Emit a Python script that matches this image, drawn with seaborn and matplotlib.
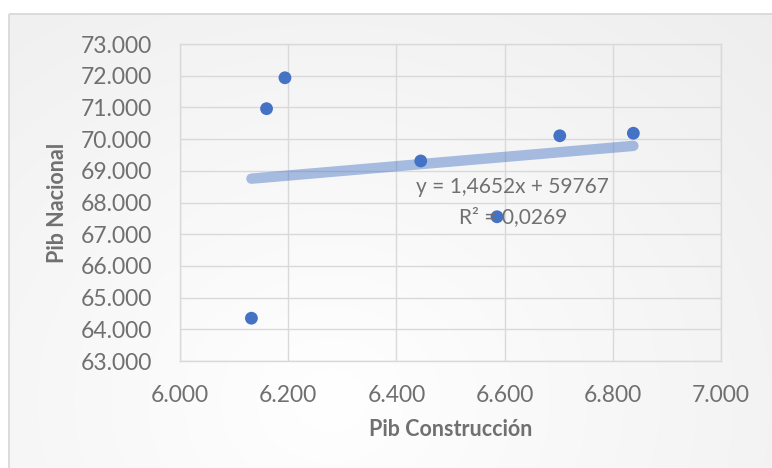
import numpy as np
import pandas as pd
import matplotlib
matplotlib.use("Agg")
import matplotlib.pyplot as plt
from matplotlib.ticker import FuncFormatter
from matplotlib.patches import Rectangle
import seaborn as sns

# Construction GDP vs national GDP
pib_construccion = [6132, 6160, 6194, 6445, 6586, 6702, 6838]
pib_nacional = [64350, 70960, 71935, 69310, 67550, 70105, 70185]

# Linear trendline as reported in the chart
pendiente = 1.4652
intercepto = 59767
r2 = 0.0269

x_ticks = [6000, 6200, 6400, 6600, 6800, 7000]
y_ticks = [63000, 64000, 65000, 66000, 67000, 68000, 69000, 70000, 71000, 72000, 73000]

df = pd.DataFrame({"Pib Construcción": pib_construccion, "Pib Nacional": pib_nacional})

sns.set_theme(style="white")
plt.rcParams["font.family"] = ["Lato", "DejaVu Sans"]

W, H = 772, 468
fig = plt.figure(figsize=(W / 100, H / 100), dpi=100)
fig.patch.set_facecolor("white")

# Chart area: soft radial gradient inside a thin gray frame
bg = fig.add_axes([0, 0, 1, 1], zorder=-5)
yy, xx = np.mgrid[0:H, 0:W]
d = np.sqrt(((xx - 330) / 700.0) ** 2 + ((yy - 400) / 600.0) ** 2)
d = np.clip(d, 0, 1)
shade = 1.0 - 0.075 * d
img = np.dstack([shade, shade, shade])
frame_x, frame_y = 9, 14
img[:frame_y, :, :] = 1.0
img[:, :frame_x, :] = 1.0
bg.imshow(img, extent=[0, W, H, 0], aspect="auto", interpolation="bilinear")
bg.add_patch(Rectangle((frame_x, frame_y), W + 10, H + 10, fill=False,
                       edgecolor="#d9d9d9", linewidth=1.3))
bg.set_xlim(0, W)
bg.set_ylim(H, 0)
bg.axis("off")

left, right, top, bottom = 180, 721, 44, 361
ax = fig.add_axes([left / W, (H - bottom) / H, (right - left) / W, (bottom - top) / H])
ax.set_facecolor("none")

# Trendline across the data range
xs = np.array([min(pib_construccion), max(pib_construccion)])
ax.plot(xs, pendiente * xs + intercepto, color="#4472c4", alpha=0.45,
        linewidth=7.5, solid_capstyle="round", zorder=2)

sns.scatterplot(data=df, x="Pib Construcción", y="Pib Nacional", ax=ax,
                color="#4472c4", s=85, edgecolor="none", zorder=3)

ax.set_xlim(6000, 7000)
ax.set_ylim(63000, 73000)
ax.set_xticks(x_ticks)
ax.set_yticks(y_ticks)
fmt = FuncFormatter(lambda v, p: f"{int(round(v)):,}".replace(",", "."))
ax.xaxis.set_major_formatter(fmt)
ax.yaxis.set_major_formatter(fmt)
ax.grid(True, color="#d9d9d9", linewidth=1.0)
ax.set_axisbelow(True)
for s in ax.spines.values():
    s.set_color("#d9d9d9")
    s.set_linewidth(1.0)
ax.tick_params(axis="x", length=0, pad=17.5, labelsize=16.5, labelcolor="#707070")
ax.tick_params(axis="y", length=0, pad=20, labelsize=16.5, labelcolor="#707070")

ax.set_xlabel("Pib Construcción", fontsize=15.5, fontweight="bold", color="#707070")
ax.set_ylabel("Pib Nacional", fontsize=15.5, fontweight="bold", color="#707070")
ax.xaxis.set_label_coords(0.5, (bottom - 430) / (bottom - top))
ax.xaxis.label.set_va("center")
ax.yaxis.set_label_coords((58 - left) / (right - left), 0.5)
ax.yaxis.label.set_va("center")

eq = f"y = {pendiente:.4f}x + {intercepto}".replace(".", ",")
r2_txt = f"R² = {r2:.4f}".replace(".", ",")
ax.text(6615, 68480, eq, ha="center", va="center", fontsize=15, color="#707070", zorder=4)
ax.text(6615, 67540, r2_txt, ha="center", va="center", fontsize=15, color="#707070", zorder=4)

fig.savefig("out.png", dpi=100)
